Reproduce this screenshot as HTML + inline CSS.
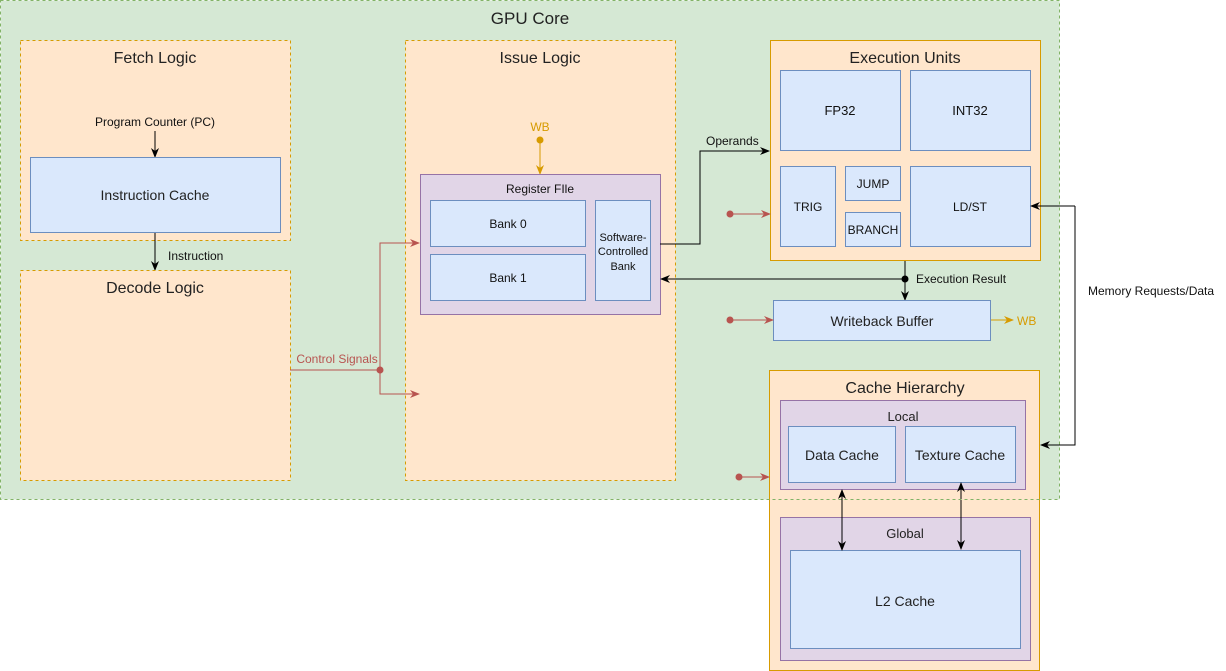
<!DOCTYPE html>
<html><head><meta charset="utf-8"><style>
body{margin:0;background:#fff}
svg{display:block;font-family:"Liberation Sans",Arial,sans-serif}
</style></head><body>
<svg width="1226" height="671" viewBox="0 0 1226 671" xmlns="http://www.w3.org/2000/svg">
<defs>
<marker id="ak" viewBox="0 0 10 10" refX="9" refY="5" markerWidth="10" markerHeight="10" orient="auto-start-reverse"><path d="M0,1 L10,5 L0,9 L3,5 Z" fill="#000"/></marker>
<marker id="ar" viewBox="0 0 10 10" refX="9" refY="5" markerWidth="10" markerHeight="10" orient="auto"><path d="M0,1 L10,5 L0,9 L3,5 Z" fill="#b85450"/></marker>
<marker id="ao" viewBox="0 0 10 10" refX="9" refY="5" markerWidth="10" markerHeight="10" orient="auto"><path d="M0,1 L10,5 L0,9 L3,5 Z" fill="#d79b00"/></marker>
</defs>
<rect x="0.5" y="0.5" width="1059" height="499" fill="#d5e8d4"/>
<text x="530" y="24" font-size="17" text-anchor="middle" fill="#222">GPU Core</text>

<rect x="20.5" y="40.5" width="270" height="200" fill="#ffe6cc" stroke="#d79b00" stroke-dasharray="3,3"/>
<text x="155" y="63" font-size="16" text-anchor="middle" fill="#222">Fetch Logic</text>
<text x="155" y="126" font-size="12" text-anchor="middle" fill="#111">Program Counter (PC)</text>
<line x1="155" y1="131" x2="155" y2="157" stroke="#000" marker-end="url(#ak)"/>
<rect x="30.5" y="157.5" width="250" height="75" fill="#dae8fc" stroke="#6c8ebf"/>
<text x="155" y="200" font-size="14" text-anchor="middle" fill="#222">Instruction Cache</text>
<line x1="155" y1="233" x2="155" y2="270" stroke="#000" marker-end="url(#ak)"/>
<text x="168" y="260" font-size="12" fill="#111">Instruction</text>

<rect x="20.5" y="270.5" width="270" height="210" fill="#ffe6cc" stroke="#d79b00" stroke-dasharray="3,3"/>
<text x="155" y="293" font-size="16" text-anchor="middle" fill="#222">Decode Logic</text>

<rect x="405.5" y="40.5" width="270" height="440" fill="#ffe6cc" stroke="#d79b00" stroke-dasharray="3,3"/>
<text x="540" y="63" font-size="16" text-anchor="middle" fill="#222">Issue Logic</text>
<text x="540" y="131" font-size="12" text-anchor="middle" fill="#d79b00">WB</text>
<circle cx="540" cy="140" r="3.5" fill="#d79b00"/>
<line x1="540" y1="140" x2="540" y2="174" stroke="#d79b00" marker-end="url(#ao)"/>
<rect x="420.5" y="174.5" width="240" height="140" fill="#e1d5e7" stroke="#9673a6"/>
<text x="540" y="193" font-size="12" text-anchor="middle" fill="#111">Register FIle</text>
<rect x="430.5" y="200.5" width="155" height="46" fill="#dae8fc" stroke="#6c8ebf"/>
<text x="508" y="228" font-size="12" text-anchor="middle" fill="#111">Bank 0</text>
<rect x="430.5" y="254.5" width="155" height="46" fill="#dae8fc" stroke="#6c8ebf"/>
<text x="508" y="282" font-size="12" text-anchor="middle" fill="#111">Bank 1</text>
<rect x="595.5" y="200.5" width="55" height="100" fill="#dae8fc" stroke="#6c8ebf"/>
<text x="623" y="241" font-size="11" text-anchor="middle" fill="#111">Software-</text>
<text x="623" y="255" font-size="11" text-anchor="middle" fill="#111">Controlled</text>
<text x="623" y="270" font-size="11" text-anchor="middle" fill="#111">Bank</text>

<polyline points="290,370 380,370 380,243 419,243" fill="none" stroke="#b85450" marker-end="url(#ar)"/>
<polyline points="380,370 380,394 419,394" fill="none" stroke="#b85450" marker-end="url(#ar)"/>
<circle cx="380" cy="370" r="3.5" fill="#b85450"/>
<text x="337" y="363" font-size="12" text-anchor="middle" fill="#b85450">Control Signals</text>

<polyline points="660,244 700,244 700,151 769,151" fill="none" stroke="#000" marker-end="url(#ak)"/>
<text x="706" y="145" font-size="12" fill="#111">Operands</text>

<rect x="770.5" y="40.5" width="270" height="220" fill="#ffe6cc" stroke="#d79b00"/>
<text x="905" y="63" font-size="16" text-anchor="middle" fill="#222">Execution Units</text>
<rect x="780.5" y="70.5" width="120" height="80" fill="#dae8fc" stroke="#6c8ebf"/>
<text x="840" y="115" font-size="13" text-anchor="middle" fill="#111">FP32</text>
<rect x="910.5" y="70.5" width="120" height="80" fill="#dae8fc" stroke="#6c8ebf"/>
<text x="970" y="115" font-size="13" text-anchor="middle" fill="#111">INT32</text>
<rect x="780.5" y="166.5" width="55" height="80" fill="#dae8fc" stroke="#6c8ebf"/>
<text x="808" y="211" font-size="12" text-anchor="middle" fill="#111">TRIG</text>
<rect x="845.5" y="166.5" width="55" height="34" fill="#dae8fc" stroke="#6c8ebf"/>
<text x="873" y="188" font-size="12" text-anchor="middle" fill="#111">JUMP</text>
<rect x="845.5" y="212.5" width="55" height="34" fill="#dae8fc" stroke="#6c8ebf"/>
<text x="873" y="234" font-size="12" text-anchor="middle" fill="#111">BRANCH</text>
<rect x="910.5" y="166.5" width="120" height="80" fill="#dae8fc" stroke="#6c8ebf"/>
<text x="970" y="211" font-size="12" text-anchor="middle" fill="#111">LD/ST</text>
<circle cx="730" cy="214" r="3.5" fill="#b85450"/>
<line x1="730" y1="214" x2="770" y2="214" stroke="#b85450" marker-end="url(#ar)"/>

<line x1="905" y1="261" x2="905" y2="300" stroke="#000" marker-end="url(#ak)"/>
<line x1="905" y1="279" x2="661" y2="279" stroke="#000" marker-end="url(#ak)"/>
<circle cx="905" cy="279" r="3.5" fill="#000"/>
<text x="916" y="283" font-size="12" fill="#111">Execution Result</text>

<rect x="773.5" y="300.5" width="217" height="40" fill="#dae8fc" stroke="#6c8ebf"/>
<text x="882" y="326" font-size="14" text-anchor="middle" fill="#222">Writeback Buffer</text>
<circle cx="730" cy="320" r="3.5" fill="#b85450"/>
<line x1="730" y1="320" x2="773" y2="320" stroke="#b85450" marker-end="url(#ar)"/>
<line x1="991" y1="320" x2="1013" y2="320" stroke="#d79b00" marker-end="url(#ao)"/>
<text x="1017" y="325" font-size="12" fill="#d79b00">WB</text>

<rect x="769.5" y="370.5" width="270" height="300" fill="#ffe6cc" stroke="#d79b00"/>
<text x="905" y="393" font-size="16" text-anchor="middle" fill="#222">Cache Hierarchy</text>
<rect x="780.5" y="400.5" width="245" height="89" fill="#e1d5e7" stroke="#9673a6"/>
<text x="903" y="421" font-size="13" text-anchor="middle" fill="#222">Local</text>
<rect x="788.5" y="426.5" width="107" height="56" fill="#dae8fc" stroke="#6c8ebf"/>
<text x="842" y="460" font-size="14" text-anchor="middle" fill="#222">Data Cache</text>
<rect x="905.5" y="426.5" width="110" height="56" fill="#dae8fc" stroke="#6c8ebf"/>
<text x="960" y="460" font-size="14" text-anchor="middle" fill="#222">Texture Cache</text>
<rect x="780.5" y="517.5" width="250" height="143" fill="#e1d5e7" stroke="#9673a6"/>
<text x="905" y="538" font-size="13" text-anchor="middle" fill="#222">Global</text>
<rect x="790.5" y="550.5" width="230" height="98" fill="#dae8fc" stroke="#6c8ebf"/>
<text x="905" y="606" font-size="14" text-anchor="middle" fill="#222">L2 Cache</text>
<line x1="842" y1="490" x2="842" y2="550" stroke="#000" marker-start="url(#ak)" marker-end="url(#ak)"/>
<line x1="961" y1="483" x2="961" y2="549" stroke="#000" marker-start="url(#ak)" marker-end="url(#ak)"/>
<circle cx="739" cy="477" r="3.5" fill="#b85450"/>
<line x1="739" y1="477" x2="769" y2="477" stroke="#b85450" marker-end="url(#ar)"/>

<polyline points="1075,206 1075,445 1041,445" fill="none" stroke="#000" marker-end="url(#ak)"/>
<line x1="1075" y1="206" x2="1031" y2="206" stroke="#000" marker-end="url(#ak)"/>
<text x="1088" y="295" font-size="12" fill="#111">Memory Requests/Data</text>

<rect x="0.5" y="0.5" width="1059" height="499" fill="none" stroke="#82b366" stroke-dasharray="3,3"/>
</svg>
</body></html>
